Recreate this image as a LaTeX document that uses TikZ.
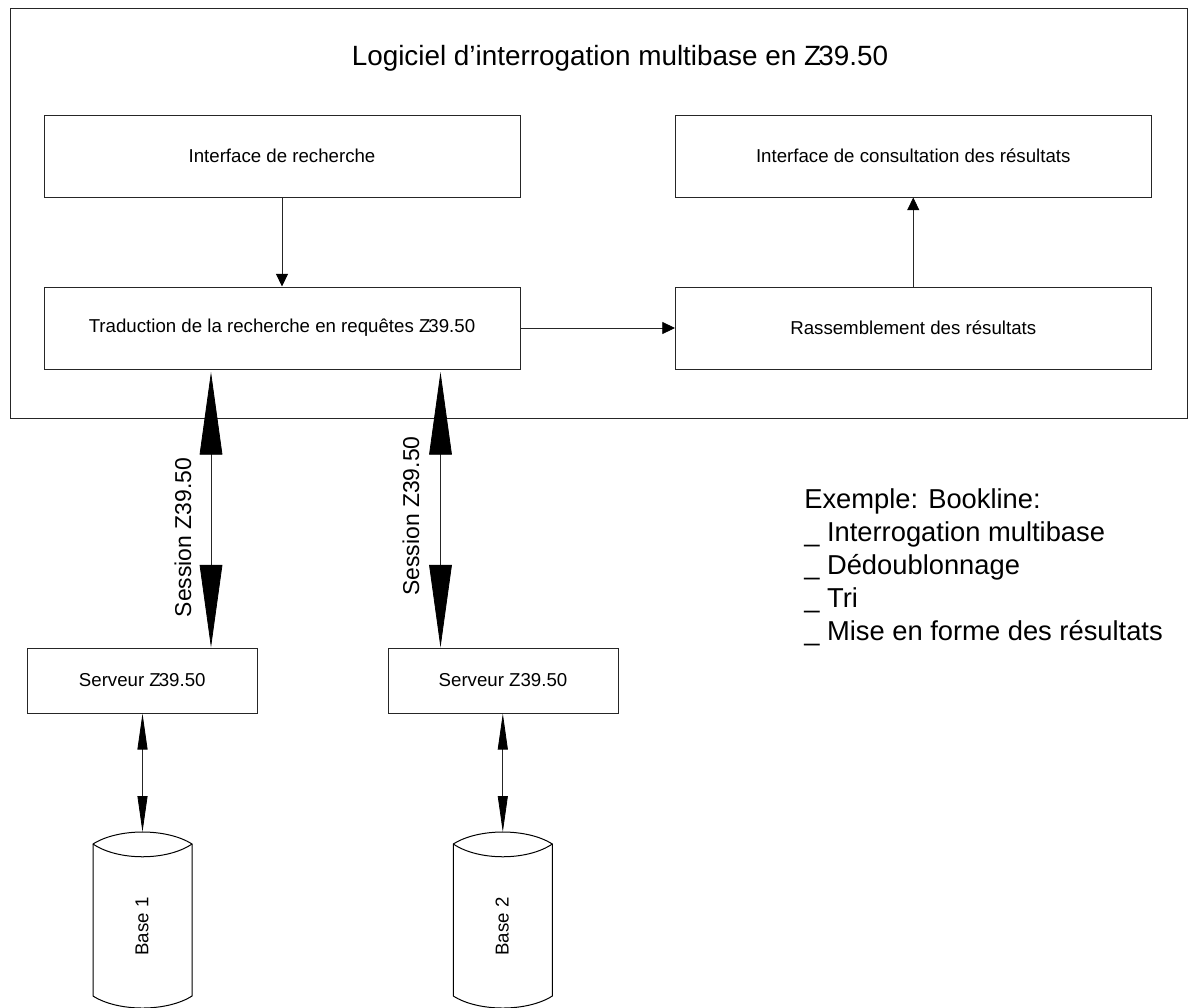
\documentclass[tikz,border=0pt]{standalone}
\usepackage{fontspec}
\setmainfont{Liberation Sans}
\usetikzlibrary{arrows.meta}
\tikzset{
  x=0.75pt,y=-0.75pt,
  boxstyle/.style={draw=black!85,line width=0.75pt,fill=white,inner sep=0pt,font=\fontsize{14pt}{16pt}\selectfont},
  plain/.style={inner sep=0pt,font=\fontsize{20.9pt}{24pt}\selectfont},
  link/.style={draw=black!85,line width=0.6pt},
  small/.style={-{Triangle[length=9.5pt,width=9pt,color=black,fill=black]}},
  bigtwo/.style={{Triangle[length=62pt,width=17pt,color=black,fill=black]}-{Triangle[length=62pt,width=17pt,color=black,fill=black]}},
  midtwo/.style={{Triangle[length=27pt,width=7.5pt,color=black,fill=black]}-{Triangle[length=27pt,width=7.5pt,color=black,fill=black]}},
  cyl/.style={draw=black,line width=0.75pt,fill=white}
}
\newcommand{\mkbox}[6]{\node[boxstyle,minimum width=#4*0.75pt-#2*0.75pt,minimum height=#5*0.75pt-#3*0.75pt] (#1) at ({(#2+#4)/2},{(#3+#5)/2}) {#6};}
\newcommand{\mkcyl}[3]{%
  \draw[cyl] (#2,844) .. controls ({#2+25},{828}) and ({#2+74},{828}) .. ({#2+99},844) -- ({#2+99},996)
   .. controls ({#2+74},{1012}) and ({#2+25},{1012}) .. (#2,996) -- cycle;
  \draw[cyl,fill=none] (#2,844) .. controls ({#2+25},{861}) and ({#2+74},{861}) .. ({#2+99},844);
  \coordinate (#1top) at ({#2+49.5},832);
  \node[inner sep=0pt,rotate=90,font=\fontsize{14pt}{16pt}\selectfont] (#1) at ({#2+49},926.5) {#3};
}
\begin{document}
\begin{tikzpicture}
\useasboundingbox (0,0) rectangle (1194,1007);
\clip (0,0) rectangle (1194,1007);
\mkbox{outer}{10}{8.5}{1187}{418}{}
\node[plain] (title) at (620,58.5) {Logiciel d’interrogation multibase en Z\kern-2pt39.50};
\mkbox{search}{44}{115}{520}{197}{\raisebox{1pt}{Interface de recherche}}
\mkbox{trans}{44}{287}{520}{369}{\raisebox{1pt}{Traduction de la recherche en requêtes Z\kern-1.5pt39.50}}
\mkbox{consult}{675.5}{115}{1151}{197}{\raisebox{1pt}{Interface de consultation des résultats}}
\mkbox{gather}{675.5}{287}{1151}{369}{\raisebox{1pt}{Rassemblement des résultats}}
\mkbox{srvA}{27.5}{648}{257}{713}{Serveur Z\kern-1.5pt39.50}
\mkbox{srvB}{388}{648}{618}{713}{Serveur Z39.50}
\mkcyl{baseA}{93}{Base 1}
\mkcyl{baseB}{453.3}{Base 2}
\draw[link,small] (search.south) -- (trans.north);
\draw[link,small] (trans.east) -- (gather.west);
\draw[link,small] (gather.north) -- (consult.south);
\coordinate (tA) at (211,372);
\coordinate (tB) at (440.5,372);
\draw[link,bigtwo] (tA) -- (tA |- srvA.north);
\draw[link,bigtwo] (tB) -- (tB |- srvB.north);
\draw[link,midtwo] (baseAtop |- srvA.south) -- (baseAtop);
\draw[link,midtwo] (baseBtop |- srvB.south) -- (baseBtop);
\node[plain,rotate=90,font=\fontsize{17.2pt}{20pt}\selectfont] (sessA) at (183,537.5) {Session Z39.50};
\node[plain,rotate=90,font=\fontsize{17.2pt}{20pt}\selectfont] (sessB) at (411,516) {Session Z39.50};
\node[plain,anchor=west,align=left,font=\fontsize{20.5pt}{24.75pt}\selectfont] (notes) at (804,567) {Exemple: Bookline:\\\_ Interrogation multibase\\\_ Dédoublonnage\\\_ Tri\\\_ Mise en forme des résultats};
\end{tikzpicture}
\end{document}
